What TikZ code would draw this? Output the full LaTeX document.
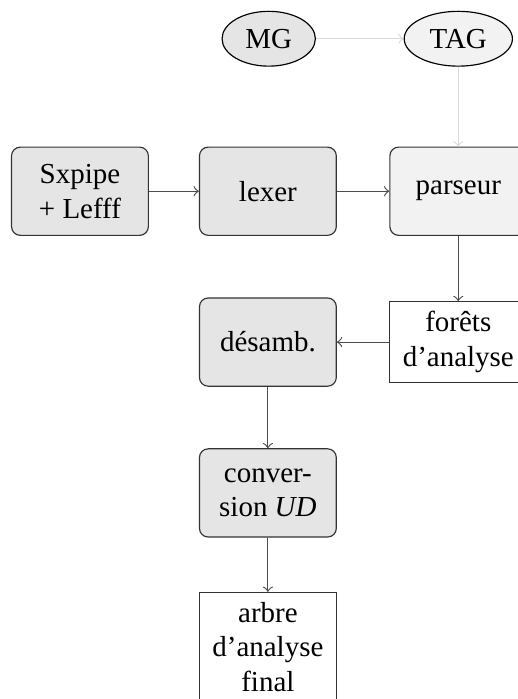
\documentclass[tikz,border=0pt]{standalone}
\usepackage{fontspec}
\setmainfont{Liberation Serif}
\usepackage{tikz}
\usetikzlibrary{shapes.geometric}

\begin{document}
\begin{tikzpicture}
	\tikzstyle{gramm} = [ellipse, draw=black, inner sep=0.3333em]
	\tikzstyle{module} = [rectangle, rounded corners=3pt, draw=black!80, fill=black!10, minimum width=1.66cm, minimum height=1.07cm, align=center]
	\tikzstyle{sortie} = [rectangle, draw=black!80, fill=white, minimum width=1.66cm, align=center]
	\tikzstyle{flux} = [->, black!70]
	\tikzstyle{compil} = [->, black!15]

	\useasboundingbox (0,0) rectangle (6.28,8.48);

%----------grammaires------------------------------
	\node[gramm, fill=black!10] (mg) at (3.26,8.01) {MG};
	\node[gramm, fill=black!5] (tag) at (5.56,8.01) {TAG};

	\path[compil] (mg) edge (tag);

%----------chaine de traitement--------------------
	\node[module] (sxp) at (0.97,6.16) {Sxpipe\\+ Lefff};
	\node[module] (lex) at (3.25,6.16) {lexer};
	\node[module, fill=black!5] (pars) at (5.56,6.16) {parseur};

	\path[compil] (tag) edge (pars);
	\path[flux] (sxp) edge (lex);
	\path[flux] (lex) edge (pars);

%--------------------------------------------------
	\node[sortie] (forets) at (5.56,4.33) {forêts\\d'analyse};
	\node[module] (desamb) at (3.25,4.33) {désamb.};

	\path[flux] (pars) edge (forets);
	\path[flux] (forets) edge (desamb);

%--------------------------------------------------
	\node[module] (conv) at (3.25,2.50) {conver-\\sion \textit{UD}};
	\node[sortie, anchor=north] (arbre) at (3.25,1.30) {arbre\\d'analyse\\final};

	\path[flux] (desamb) edge (conv);
	\path[flux] (conv) edge (arbre);

\end{tikzpicture}
\end{document}
